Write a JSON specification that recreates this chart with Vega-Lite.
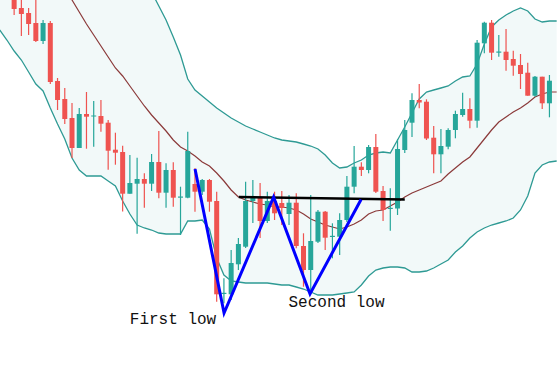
{
  "$schema": "https://vega.github.io/schema/vega-lite/v6.json",
  "width": 559,
  "height": 377,
  "padding": 0,
  "autosize": {"type": "fit", "contains": "padding"},
  "background": "#ffffff",
  "config": {"view": {"stroke": null}},
  "datasets": {
    "candles": [
      {"i":0,"o":380,"h":383,"l":362,"c":368},
      {"i":1,"o":369,"h":380,"l":341,"c":363},
      {"i":2,"o":364,"h":369,"l":342,"c":353},
      {"i":3,"o":354,"h":378,"l":335,"c":336},
      {"i":4,"o":336,"h":357,"l":333,"c":354},
      {"i":5,"o":354,"h":356,"l":293,"c":295},
      {"i":6,"o":296,"h":299,"l":267,"c":277},
      {"i":7,"o":278,"h":289,"l":253,"c":258},
      {"i":8,"o":259,"h":274,"l":219,"c":229},
      {"i":9,"o":229,"h":269,"l":229,"c":263},
      {"i":10,"o":263,"h":285,"l":228.3,"c":260.3},
      {"i":11,"o":260.5,"h":276,"l":230.3,"c":261.5},
      {"i":12,"o":261,"h":277,"l":245.3,"c":253.3},
      {"i":13,"o":254.3,"h":257,"l":207.3,"c":226.3},
      {"i":14,"o":227.3,"h":244.3,"l":212.3,"c":224.3},
      {"i":15,"o":225,"h":231.3,"l":165.5,"c":183.3},
      {"i":16,"o":183.3,"h":222,"l":183.3,"c":194},
      {"i":17,"o":193.3,"h":219.3,"l":143.3,"c":198},
      {"i":18,"o":198,"h":203.7,"l":169.3,"c":193.3},
      {"i":19,"o":193.3,"h":223,"l":186,"c":215},
      {"i":20,"o":215,"h":246,"l":178.7,"c":184.3},
      {"i":21,"o":184.3,"h":213.7,"l":169.3,"c":207},
      {"i":22,"o":207,"h":214.7,"l":170.3,"c":179.3},
      {"i":23,"o":179.3,"h":190.3,"l":142,"c":180.5},
      {"i":24,"o":179.3,"h":245.3,"l":178.7,"c":226},
      {"i":25,"o":193,"h":209,"l":165.3,"c":185.3},
      {"i":26,"o":185.3,"h":198,"l":182,"c":197},
      {"i":27,"o":197,"h":198,"l":165.3,"c":175.3},
      {"i":28,"o":176,"h":185.3,"l":75.3,"c":82.7},
      {"i":29,"o":83,"h":98.7,"l":73.7,"c":84.2},
      {"i":30,"o":82.7,"h":127,"l":77,"c":114},
      {"i":31,"o":112.7,"h":139,"l":107,"c":133},
      {"i":32,"o":130.3,"h":195.3,"l":129,"c":176},
      {"i":33,"o":176,"h":197,"l":154,"c":180},
      {"i":34,"o":179,"h":194,"l":139,"c":156},
      {"i":35,"o":156,"h":185.3,"l":154,"c":176},
      {"i":36,"o":176,"h":185.3,"l":157,"c":163.7},
      {"i":37,"o":174,"h":186,"l":152,"c":169},
      {"i":38,"o":163,"h":182,"l":152,"c":174.3},
      {"i":39,"o":174.3,"h":183.7,"l":128.7,"c":131},
      {"i":40,"o":131,"h":143.7,"l":90.3,"c":107},
      {"i":41,"o":107,"h":182,"l":87,"c":136},
      {"i":42,"o":135.3,"h":167,"l":134,"c":165.3},
      {"i":43,"o":165.3,"h":166,"l":127,"c":139.3},
      {"i":44,"o":140,"h":153.7,"l":118.7,"c":141.2},
      {"i":45,"o":140.3,"h":163.7,"l":122,"c":157},
      {"i":46,"o":157,"h":201,"l":155,"c":190.3},
      {"i":47,"o":190.3,"h":231,"l":183.7,"c":210.3},
      {"i":48,"o":210.3,"h":214.7,"l":201,"c":207},
      {"i":49,"o":207,"h":232,"l":203.7,"c":230},
      {"i":50,"o":230,"h":243,"l":184,"c":185.3},
      {"i":51,"o":186,"h":191,"l":156,"c":167},
      {"i":52,"o":168,"h":188.7,"l":146.3,"c":169.2},
      {"i":53,"o":168.5,"h":238,"l":162,"c":228},
      {"i":54,"o":227,"h":257,"l":224,"c":247},
      {"i":55,"o":254.3,"h":283.7,"l":240,"c":277},
      {"i":56,"o":277,"h":293,"l":268.7,"c":274.5},
      {"i":57,"o":275.3,"h":277.7,"l":237,"c":238.5},
      {"i":58,"o":239.3,"h":251,"l":203.7,"c":222.7},
      {"i":59,"o":222.7,"h":248,"l":203.7,"c":231},
      {"i":60,"o":230.3,"h":248.7,"l":227.7,"c":247},
      {"i":61,"o":247,"h":266.3,"l":238.7,"c":263},
      {"i":62,"o":262,"h":284.3,"l":260.3,"c":268},
      {"i":63,"o":268,"h":278.7,"l":248.7,"c":256.3},
      {"i":64,"o":256.3,"h":337,"l":249.3,"c":334.3},
      {"i":65,"o":333.7,"h":355.3,"l":323.7,"c":354.3},
      {"i":66,"o":354.3,"h":357,"l":317,"c":324.3},
      {"i":67,"o":324.3,"h":342,"l":320.3,"c":325.5},
      {"i":68,"o":325.3,"h":348,"l":306.3,"c":317},
      {"i":69,"o":318,"h":326.3,"l":301.3,"c":311.3},
      {"i":70,"o":312,"h":323,"l":288,"c":303},
      {"i":71,"o":304.3,"h":314.3,"l":281.3,"c":281.3},
      {"i":72,"o":281.3,"h":301,"l":280.3,"c":300.3},
      {"i":73,"o":300.3,"h":300.3,"l":268,"c":273.7},
      {"i":74,"o":273.7,"h":302,"l":259.7,"c":296.3}
    ],
    "bands": [
      {"i":-2,"up":627,"mid":487,"lo":347},
      {"i":-1,"up":617,"mid":477,"lo":337},
      {"i":0,"up":604,"mid":465,"lo":326},
      {"i":1,"up":591,"mid":454,"lo":317},
      {"i":2,"up":581,"mid":443,"lo":305},
      {"i":3,"up":569,"mid":431,"lo":293},
      {"i":4,"up":554,"mid":420,"lo":286},
      {"i":5,"up":549,"mid":409,"lo":269},
      {"i":6,"up":543,"mid":398,"lo":253},
      {"i":7,"up":536,"mid":387,"lo":238},
      {"i":8,"up":535,"mid":377,"lo":219},
      {"i":9,"up":523,"mid":365,"lo":207},
      {"i":10,"up":505,"mid":353,"lo":201},
      {"i":11,"up":483,"mid":342,"lo":201},
      {"i":12,"up":461,"mid":331,"lo":201},
      {"i":13,"up":444,"mid":320,"lo":196},
      {"i":14,"up":427,"mid":309,"lo":191},
      {"i":15,"up":426,"mid":301,"lo":176},
      {"i":16,"up":419,"mid":291,"lo":163},
      {"i":17,"up":410,"mid":281,"lo":152},
      {"i":18,"up":393,"mid":271,"lo":149},
      {"i":19,"up":385,"mid":262,"lo":147},
      {"i":20,"up":371,"mid":254,"lo":144},
      {"i":21,"up":357,"mid":246,"lo":143},
      {"i":22,"up":340,"mid":237,"lo":143},
      {"i":23,"up":322,"mid":230,"lo":143},
      {"i":24,"up":298,"mid":226,"lo":156},
      {"i":25,"up":287,"mid":221,"lo":156},
      {"i":26,"up":281,"mid":215,"lo":157},
      {"i":27,"up":275,"mid":211,"lo":148},
      {"i":28,"up":269,"mid":204,"lo":119},
      {"i":29,"up":264,"mid":196,"lo":102},
      {"i":30,"up":259,"mid":187,"lo":96},
      {"i":31,"up":255,"mid":180,"lo":95},
      {"i":32,"up":251,"mid":177,"lo":94},
      {"i":33,"up":248,"mid":175,"lo":94},
      {"i":34,"up":245,"mid":173,"lo":94},
      {"i":35,"up":242,"mid":172,"lo":94},
      {"i":36,"up":239,"mid":170,"lo":93},
      {"i":37,"up":237,"mid":170,"lo":92},
      {"i":38,"up":236,"mid":169,"lo":92},
      {"i":39,"up":235,"mid":167,"lo":90},
      {"i":40,"up":233,"mid":163,"lo":88},
      {"i":41,"up":231,"mid":158,"lo":85},
      {"i":42,"up":228,"mid":155,"lo":82},
      {"i":43,"up":222,"mid":152,"lo":82},
      {"i":44,"up":214,"mid":150,"lo":82},
      {"i":45,"up":209,"mid":148,"lo":83},
      {"i":46,"up":210,"mid":150,"lo":84},
      {"i":47,"up":214,"mid":153,"lo":85},
      {"i":48,"up":217,"mid":157,"lo":92},
      {"i":49,"up":222,"mid":163,"lo":101},
      {"i":50,"up":224,"mid":166,"lo":107},
      {"i":51,"up":225,"mid":167,"lo":109},
      {"i":52,"up":224,"mid":171,"lo":110},
      {"i":53,"up":237,"mid":175,"lo":110},
      {"i":54,"up":250,"mid":180,"lo":109},
      {"i":55,"up":264,"mid":184,"lo":105},
      {"i":56,"up":278,"mid":187,"lo":105},
      {"i":57,"up":285,"mid":190,"lo":106},
      {"i":58,"up":287,"mid":193,"lo":109},
      {"i":59,"up":289,"mid":196,"lo":113},
      {"i":60,"up":291,"mid":203,"lo":117},
      {"i":61,"up":296,"mid":209,"lo":125},
      {"i":62,"up":300,"mid":215,"lo":131},
      {"i":63,"up":301,"mid":220,"lo":139},
      {"i":64,"up":313,"mid":229,"lo":145},
      {"i":65,"up":333,"mid":238,"lo":149},
      {"i":66,"up":350,"mid":247,"lo":152},
      {"i":67,"up":357,"mid":255,"lo":154},
      {"i":68,"up":362,"mid":260,"lo":156},
      {"i":69,"up":366,"mid":265,"lo":159},
      {"i":70,"up":369,"mid":269,"lo":167},
      {"i":71,"up":366,"mid":274,"lo":181},
      {"i":72,"up":358,"mid":280,"lo":204},
      {"i":73,"up":355,"mid":283,"lo":212},
      {"i":74,"up":356,"mid":285,"lo":215},
      {"i":75,"up":356,"mid":285,"lo":216}
    ],
    "wpattern": [
      {"i":25.01,"p":208},
      {"i":29.02,"p":64},
      {"i":35.87,"p":180},
      {"i":40.9,"p":83},
      {"i":47.96,"p":177.5}
    ],
    "neckline": [
      {"i":31.05,"p":180},
      {"i":54.0,"p":177.5}
    ],
    "labels": [
      {"i":21.96,"p":58,"text":"First low"},
      {"i":44.56,"p":75,"text":"Second low"}
    ]
  },
  "encoding": {
    "x": {"type": "quantitative", "scale": {"domain": [-1.263, 74.63], "nice": false, "zero": false}, "axis": null}
  },
  "layer": [
    {
      "data": {"name": "bands"},
      "mark": {"type": "area", "color": "#f2f9f9", "opacity": 1, "clip": true},
      "encoding": {
        "x": {"field": "i", "type": "quantitative"},
        "y": {"field": "lo", "type": "quantitative", "scale": {"domain": [0, 377], "nice": false, "zero": false}, "axis": null},
        "y2": {"field": "up"}
      }
    },
    {
      "data": {"name": "bands"},
      "mark": {"type": "line", "color": "#2e9a94", "strokeWidth": 1.3, "clip": true},
      "encoding": {
        "x": {"field": "i", "type": "quantitative"},
        "y": {"field": "up", "type": "quantitative"}
      }
    },
    {
      "data": {"name": "bands"},
      "mark": {"type": "line", "color": "#2e9a94", "strokeWidth": 1.3, "clip": true},
      "encoding": {
        "x": {"field": "i", "type": "quantitative"},
        "y": {"field": "lo", "type": "quantitative"}
      }
    },
    {
      "data": {"name": "bands"},
      "mark": {"type": "line", "color": "#8b3a3a", "strokeWidth": 1.2, "clip": true},
      "encoding": {
        "x": {"field": "i", "type": "quantitative"},
        "y": {"field": "mid", "type": "quantitative"}
      }
    },
    {
      "data": {"name": "candles"},
      "mark": {"type": "rule", "strokeWidth": 1.2, "clip": true},
      "encoding": {
        "x": {"field": "i", "type": "quantitative"},
        "y": {"field": "h", "type": "quantitative"},
        "y2": {"field": "l"},
        "color": {"condition": {"test": "datum.c >= datum.o", "value": "#26a69a"}, "value": "#ef5350"}
      }
    },
    {
      "data": {"name": "candles"},
      "mark": {"type": "bar", "width": 5, "clip": true},
      "encoding": {
        "x": {"field": "i", "type": "quantitative"},
        "y": {"field": "o", "type": "quantitative"},
        "y2": {"field": "c"},
        "color": {"condition": {"test": "datum.c >= datum.o", "value": "#26a69a"}, "value": "#ef5350"}
      }
    },
    {
      "data": {"name": "neckline"},
      "mark": {"type": "line", "color": "#000000", "strokeWidth": 2.5, "clip": true},
      "encoding": {
        "x": {"field": "i", "type": "quantitative"},
        "y": {"field": "p", "type": "quantitative"}
      }
    },
    {
      "data": {"name": "wpattern"},
      "mark": {"type": "line", "color": "#0000ff", "strokeWidth": 3, "clip": true},
      "encoding": {
        "x": {"field": "i", "type": "quantitative"},
        "y": {"field": "p", "type": "quantitative"}
      }
    },
    {
      "data": {"name": "labels"},
      "mark": {"type": "text", "font": "Liberation Mono", "fontSize": 16, "color": "#111111", "baseline": "middle", "align": "center"},
      "encoding": {
        "x": {"field": "i", "type": "quantitative"},
        "y": {"field": "p", "type": "quantitative"},
        "text": {"field": "text"}
      }
    }
  ]
}
